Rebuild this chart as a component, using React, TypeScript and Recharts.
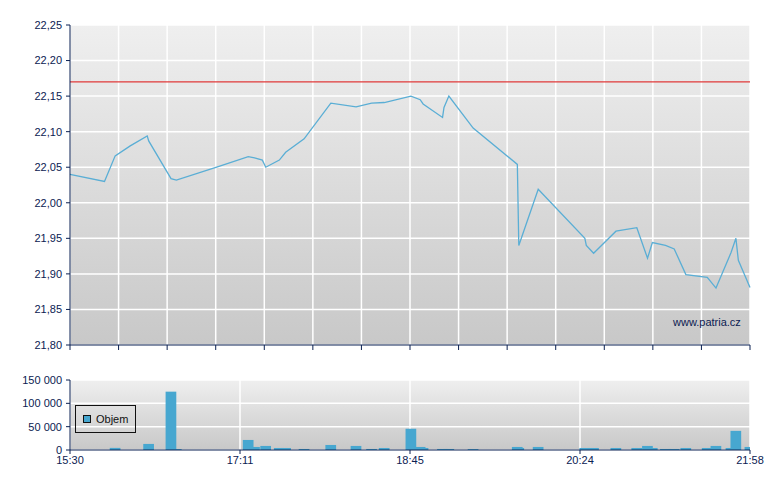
import { LineChart, ComposedChart, Line, Bar, XAxis, YAxis, CartesianGrid, ReferenceLine, Legend } from 'recharts'

// trade positions on the session axis (0 = 15:30, 140 = 21:58)
const tradeX = [0, 7.1, 9.3, 12.4, 15.9, 16.2, 20.8, 21.9, 30.2, 36.7, 38.0, 39.6, 40.3, 43.1, 44.4, 48.2, 53.7, 58.9, 62.1, 64.7, 70.2, 72.1, 72.7, 76.7, 77.0, 78.0, 83.0, 92.1, 92.4, 96.4, 106.0, 106.3, 107.8, 112.4, 116.7, 118.9, 119.9, 122.6, 124.4, 126.8, 131.2, 133.0, 136.1, 137.1, 137.6, 140]
const price = [22.04, 22.03, 22.066, 22.08, 22.094, 22.087, 22.034, 22.032, 22.05, 22.065, 22.063, 22.06, 22.05, 22.06, 22.071, 22.09, 22.14, 22.135, 22.14, 22.141, 22.15, 22.145, 22.139, 22.12, 22.134, 22.15, 22.105, 22.054, 21.94, 22.019, 21.95, 21.94, 21.929, 21.96, 21.965, 21.922, 21.944, 21.94, 21.935, 21.899, 21.895, 21.88, 21.93, 21.95, 21.919, 21.881]
const volume = [0, 0, 4500, 0, 0, 13000, 125000, 2000, 0, 21500, 6500, 0, 8700, 4300, 4300, 2200, 10800, 8700, 2200, 4300, 45500, 6500, 4300, 2200, 0, 2200, 2000, 6500, 4300, 6500, 4300, 0, 4300, 4300, 4300, 8700, 4300, 2200, 2200, 4300, 4300, 8700, 4300, 41000, 0, 6500]

const prevClose = 22.17
const priceTicks = [21.8, 21.85, 21.9, 21.95, 22.0, 22.05, 22.1, 22.15, 22.2, 22.25]
const gridTicks = [0, 10, 20, 30, 40, 50, 60, 70, 80, 90, 100, 110, 120, 130, 140]
const volumeTicks = [0, 50000, 100000, 150000]
const timeTicks = [0, 35, 70, 105, 140]
const timeLabels = ['15:30', '17:11', '18:45', '20:24', '21:58']

const data = tradeX.map((x, i) => ({ x, price: price[i], volume: volume[i] }))

const NAVY = '#0b2152'
const LINE_COLOR = '#5aaed5'
const BAR_COLOR = '#47a7d0'
const BAR_W = 10.7
const FONT = '"Liberation Sans", Arial, sans-serif'
const tickStyle = { fontSize: 11, fontFamily: FONT, fill: NAVY }

const fmtPrice = (v: number) => v.toFixed(2).replace('.', ',')
const fmtVolume = (v: number) => String(v).replace(/\B(?=(\d{3})+(?!\d))/g, ' ')
const fmtTime = (v: number) => timeLabels[timeTicks.indexOf(v)] ?? ''

function VolumeBar(props: any) {
  const { x, y, width, height } = props
  if (!height || height <= 0) return null
  return <rect x={x + width / 2 - BAR_W / 2} y={y} width={BAR_W} height={height} fill={BAR_COLOR} />
}

function VolumeLegend() {
  return (
    <div
      style={{
        width: 61,
        height: 28,
        boxSizing: 'border-box',
        border: '1px solid #111',
        display: 'flex',
        alignItems: 'center',
        paddingLeft: 7,
        fontFamily: FONT,
        fontSize: 11,
        color: '#111',
      }}
    >
      <span style={{ width: 6, height: 6, background: BAR_COLOR, border: '1px solid #111', marginRight: 5 }} />
      Objem
    </div>
  )
}

export default function App() {
  return (
    <div style={{ position: 'absolute', left: 0, top: 0, width: 780, height: 490, background: '#fff' }}>
      <svg width={0} height={0} style={{ position: 'absolute' }}>
        <defs>
          <linearGradient id="plotBg" x1="0" y1="0" x2="0" y2="1">
            <stop offset="0%" stopColor="#efefef" />
            <stop offset="100%" stopColor="#c8c8c8" />
          </linearGradient>
        </defs>
      </svg>

      <div style={{ position: 'absolute', left: 0, top: 0 }}>
        <LineChart width={780} height={360} data={data} margin={{ top: 25, right: 30, bottom: 0, left: 0 }}>
          <CartesianGrid fill="url(#plotBg)" stroke="#ffffff" strokeWidth={1.5} />
          <XAxis
            dataKey="x"
            type="number"
            domain={[0, 140]}
            ticks={gridTicks}
            height={15}
            tickFormatter={() => ''}
            tickSize={5}
            axisLine={{ stroke: NAVY }}
            tickLine={{ stroke: NAVY }}
          />
          <YAxis
            type="number"
            domain={[21.8, 22.25]}
            ticks={priceTicks}
            width={70}
            tickSize={4}
            tickMargin={4}
            tickFormatter={fmtPrice}
            tick={tickStyle}
            axisLine={{ stroke: NAVY }}
            tickLine={{ stroke: NAVY }}
          />
          <ReferenceLine y={prevClose} stroke="#e03a3a" strokeWidth={1.2} />
          <Line type="linear" dataKey="price" stroke={LINE_COLOR} strokeWidth={1.3} dot={false} isAnimationActive={false} />
        </LineChart>
        <div style={{ position: 'absolute', left: 673, top: 316, fontFamily: FONT, fontSize: 11, color: NAVY, whiteSpace: 'nowrap' }}>
          www.patria.cz
        </div>
      </div>

      <div style={{ position: 'absolute', left: 0, top: 360 }}>
        <ComposedChart width={780} height={130} data={data} margin={{ top: 20, right: 30, bottom: 0, left: 0 }}>
          <CartesianGrid fill="url(#plotBg)" stroke="#ffffff" strokeWidth={1.5} />
          <XAxis
            dataKey="x"
            type="number"
            domain={[0, 140]}
            allowDataOverflow
            ticks={timeTicks}
            height={40}
            tickSize={4}
            tickMargin={2}
            tickFormatter={fmtTime}
            tick={tickStyle}
            axisLine={{ stroke: NAVY }}
            tickLine={{ stroke: NAVY }}
          />
          <YAxis
            type="number"
            domain={[0, 150000]}
            ticks={volumeTicks}
            width={70}
            tickSize={4}
            tickMargin={4}
            tickFormatter={fmtVolume}
            tick={tickStyle}
            axisLine={{ stroke: NAVY }}
            tickLine={{ stroke: NAVY }}
          />
          <Legend
            layout="vertical"
            align="center"
            verticalAlign="middle"
            content={() => <VolumeLegend />}
            wrapperStyle={{ left: 75, top: 45, width: 61, height: 28 }}
          />
          <Bar dataKey="volume" name="Objem" fill={BAR_COLOR} shape={VolumeBar} isAnimationActive={false} />
        </ComposedChart>
      </div>
    </div>
  )
}
